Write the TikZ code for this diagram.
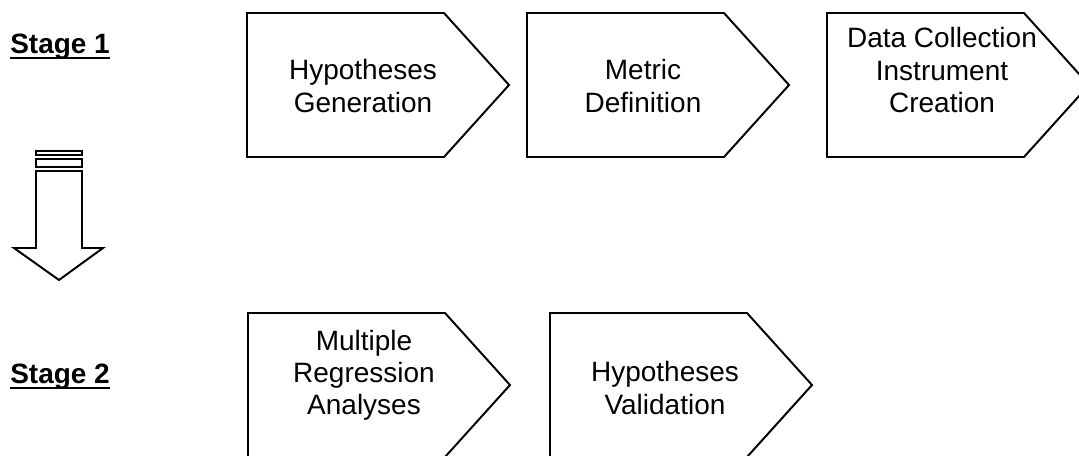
\documentclass[tikz,border=0pt]{standalone}
\usepackage{fontspec}
\setmainfont{Liberation Sans}

% outline of one step: left x, top y, bottom y
\newcommand{\stepbox}[3]{%
  \draw[stepline] (#1,#2) -- (#1+197,#2) -- (#1+262,{(#2+#3)/2})
    -- (#1+197,#3) -- (#1,#3) -- cycle;}

\begin{document}
\begin{tikzpicture}[x=0.025cm, y=-0.025cm,
    stepline/.style={line width=1.4pt, line join=miter},
    steptext/.style={align=center, inner sep=0pt,
      font=\fontsize{19.9}{22.8}\selectfont},
    stagelabel/.style={anchor=base west, inner sep=0pt,
      font=\fontsize{19.9}{22.8}\selectfont\bfseries},
    underl/.style={line width=1.6pt},
    arrowline/.style={line width=1.4pt}]

    \useasboundingbox (0,0) rectangle (1079,455);

    % stage labels
    \node[stagelabel] (stage1) at (10,53) {Stage 1};
    \draw[underl] ([yshift=-3.6pt]stage1.base west) -- ([yshift=-3.6pt]stage1.base east);
    \node[stagelabel] (stage2) at (10,383) {Stage 2};
    \draw[underl] ([yshift=-3.6pt]stage2.base west) -- ([yshift=-3.6pt]stage2.base east);

    % big down arrow
    \draw[arrowline] (36,151) rectangle (82,155);
    \draw[arrowline] (36,159) rectangle (82,167);
    \draw[arrowline] (36,171) -- (36,248) -- (14,248) -- (59,280)
        -- (103,248) -- (82,248) -- (82,171) -- cycle;

    % stage 1
    \stepbox{247}{13}{157}
    \stepbox{527}{13}{157}
    \stepbox{827}{13}{157}
    \node[steptext] (hypgen) at (363,86) {Hypotheses\\Generation};
    \node[steptext] (metdef) at (643,86) {Metric\\Definition};
    \node[steptext] (datcol) at (942,70) {Data Collection\\Instrument\\Creation};

    % stage 2
    \stepbox{248}{313}{457}
    \stepbox{550}{313}{457}
    \node[steptext] (mulreg) at (364,375) {Multiple\\Regression\\Analyses};
    \node[steptext] (hypval) at (665,388) {Hypotheses\\Validation};
\end{tikzpicture}
\end{document}
